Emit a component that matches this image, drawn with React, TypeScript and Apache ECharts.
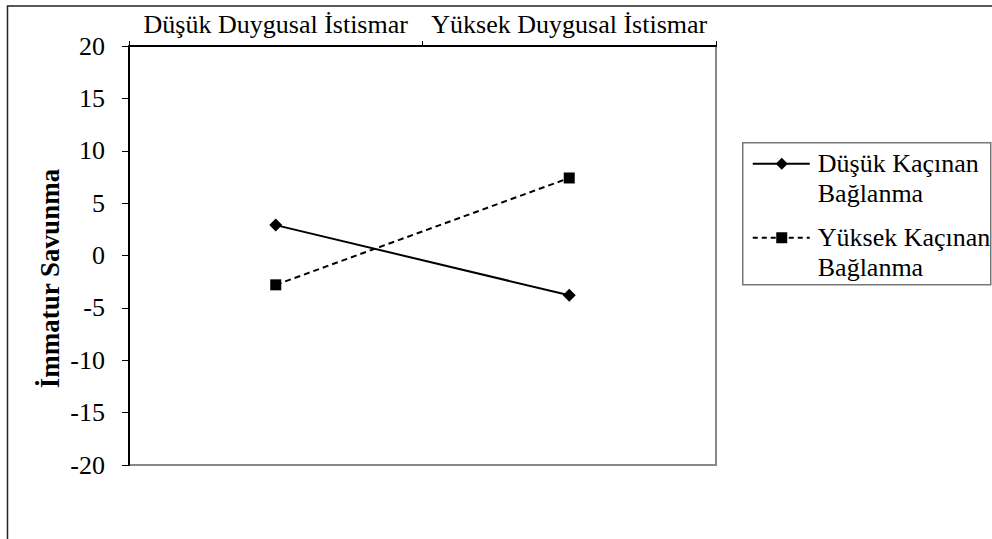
import React, { useEffect, useRef } from "react";
import * as echarts from "echarts";

const categories = ["Düşük Duygusal İstismar", "Yüksek Duygusal İstismar"];
const seriesNames = ["Düşük Kaçınan\nBağlanma", "Yüksek Kaçınan\nBağlanma"];
const lowAvoidant = [2.9, -3.8];
const highAvoidant = [-2.8, 7.4];
const yTicks = { min: -20, max: 20, interval: 5 };
const yName = "İmmatur Savunma";

const FONT = "'Liberation Serif', 'Times New Roman', serif";

export default function App() {
  const ref = useRef<HTMLDivElement>(null);
  useEffect(() => {
    if (!ref.current) return;
    const chart = echarts.init(ref.current, null, { renderer: "svg" });
    chart.setOption({
      animation: false,
      backgroundColor: "#fff",
      textStyle: { fontFamily: FONT, color: "#000" },
      grid: {
        left: 129,
        top: 46,
        right: 276,
        bottom: 74,
        show: true,
        borderColor: "#888",
        borderWidth: 2,
        backgroundColor: "#fff",
      },
      xAxis: {
        type: "category",
        position: "top",
        data: categories,
        boundaryGap: true,
        axisLine: { show: true, onZero: false, lineStyle: { color: "#000", width: 2 } },
        axisTick: { show: true, length: 5, lineStyle: { color: "#000", width: 1 } },
        axisLabel: { fontFamily: FONT, fontSize: 26, color: "#000", margin: 9, interval: 0 },
        splitLine: { show: false },
      },
      yAxis: {
        type: "value",
        min: yTicks.min,
        max: yTicks.max,
        interval: yTicks.interval,
        name: yName,
        nameLocation: "middle",
        nameRotate: 90,
        nameGap: 66,
        nameMoveOverlap: false,
        nameTextStyle: {
          fontFamily: FONT,
          fontSize: 27,
          fontWeight: "bold",
          color: "#000",
          padding: [0, 46, 0, 0],
        },
        axisLine: { show: true, onZero: false, lineStyle: { color: "#000", width: 2 } },
        axisTick: { show: true, length: 7, lineStyle: { color: "#000", width: 1 } },
        axisLabel: { fontFamily: FONT, fontSize: 26, color: "#000", margin: 24 },
        splitLine: { show: false },
      },
      series: [
        {
          name: seriesNames[0],
          type: "line",
          data: lowAvoidant,
          symbol: "diamond",
          symbolSize: 13,
          itemStyle: { color: "#000" },
          lineStyle: { color: "#000", width: 2, type: "solid" },
        },
        {
          name: seriesNames[1],
          type: "line",
          data: highAvoidant,
          symbol: "rect",
          symbolSize: 11,
          itemStyle: { color: "#000" },
          lineStyle: { color: "#000", width: 2, type: [6, 4] },
        },
      ],
      graphic: [
        {
          type: "rect",
          silent: true,
          shape: { x: 7.5, y: 6, width: 1200, height: 800 },
          style: { fill: "none", stroke: "#222", lineWidth: 1.5 },
          z: -10,
        },
        {
          type: "group",
          left: 742,
          top: 142,
          children: [
            {
              type: "rect",
              shape: { x: 0, y: 0, width: 248, height: 142 },
              style: { fill: "#fff", stroke: "#777", lineWidth: 1.5 },
            },
            {
              type: "line",
              shape: { x1: 10, y1: 21, x2: 67, y2: 21 },
              style: { stroke: "#000", lineWidth: 2 },
            },
            {
              type: "polygon",
              shape: { points: [[39, 15], [45, 21], [39, 27], [33, 21]] },
              style: { fill: "#000" },
            },
            {
              type: "text",
              x: 75,
              y: 6,
              style: {
                text: seriesNames[0],
                fontFamily: FONT,
                fontSize: 26,
                fill: "#000",
                lineHeight: 30,
              },
            },
            {
              type: "line",
              shape: { x1: 10, y1: 95, x2: 67, y2: 95 },
              style: { stroke: "#000", lineWidth: 2, lineDash: [5, 4] },
            },
            {
              type: "rect",
              shape: { x: 33.5, y: 89.5, width: 11, height: 11 },
              style: { fill: "#000" },
            },
            {
              type: "text",
              x: 75,
              y: 80,
              style: {
                text: seriesNames[1],
                fontFamily: FONT,
                fontSize: 26,
                fill: "#000",
                lineHeight: 30,
              },
            },
          ],
        },
      ],
    });
    return () => chart.dispose();
  }, []);
  return (
    <div
      ref={ref}
      style={{ position: "absolute", left: 0, top: 0, width: 992, height: 539 }}
    />
  );
}
